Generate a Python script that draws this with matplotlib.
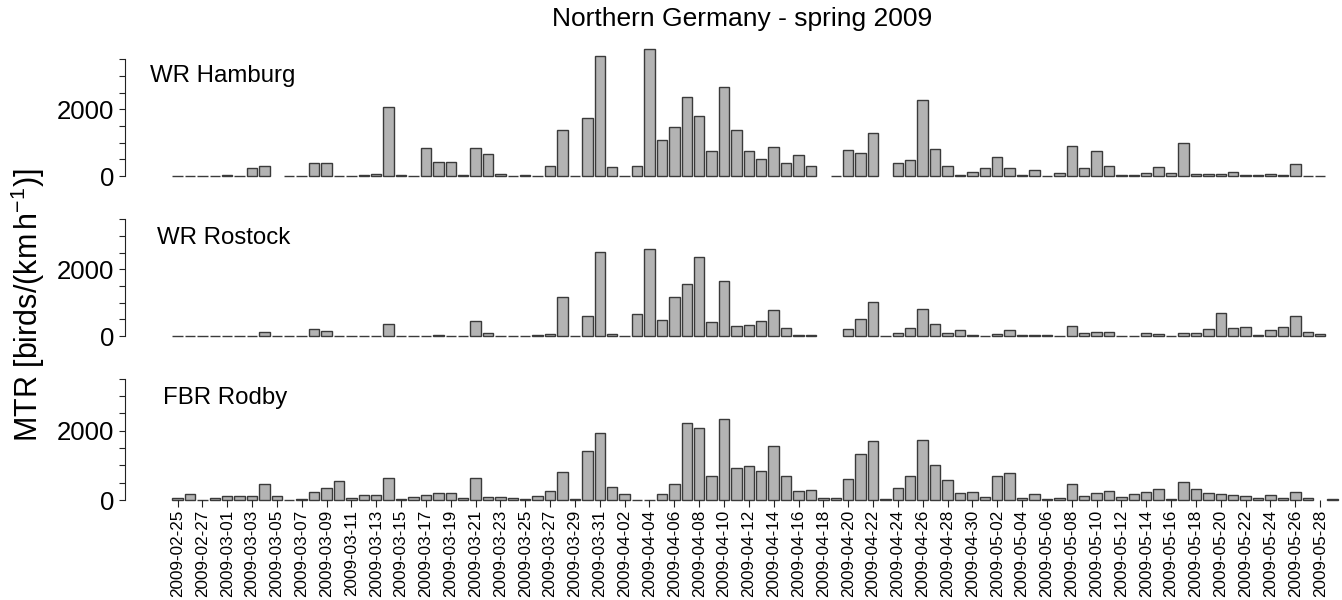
import numpy as np
import pandas as pd
import matplotlib
matplotlib.use("Agg")
import matplotlib.pyplot as plt

plt.rcParams['font.family'] = ['Liberation Sans', 'DejaVu Sans']
plt.rcParams['mathtext.fontset'] = 'custom'
plt.rcParams['mathtext.rm'] = 'Liberation Sans'
plt.rcParams['mathtext.it'] = 'Liberation Sans:italic'

nan = np.nan
# daily dates, 2009-02-25 .. 2009-05-29
dates = pd.date_range('2009-02-25', '2009-05-29', freq='D')
tick_labels = [d.strftime('%Y-%m-%d') for d in dates[:93:2]]

hamburg = [0, 0, 0, 0, 20, 0, 250, 300, nan, 0,
           0, 380, 380, 0, 0, 20, 70, 2060, 20, 0,
           830, 420, 420, 20, 830, 650, 60, 0, 25, 0,
           290, 1390, 0, 1740, 3610, 270, 0, 290, 3810, 1080,
           1460, 2380, 1790, 750, 2660, 1370, 750, 520, 870, 380,
           630, 290, nan, 0, 770, 680, 1300, nan, 380, 470,
           2280, 810, 290, 20, 130, 230, 580, 250, 40, 180,
           0, 80, 910, 230, 740, 310, 20, 20, 80, 260,
           80, 980, 60, 60, 60, 110, 20, 20, 60, 20,
           360, 0, 0, nan]

rostock = [0, 10, 0, 10, 0, 10, 0, 120, 0, 0,
           0, 210, 140, 0, 10, 10, 10, 370, 10, 0,
           10, 30, 10, 10, 460, 80, 10, 0, 10, 30,
           50, 1170, 0, 590, 2530, 50, 10, 670, 2600, 480,
           1170, 1550, 2370, 410, 1640, 300, 320, 440, 790, 230,
           30, 15, nan, nan, 210, 510, 1010, 0, 90, 250,
           800, 370, 90, 170, 15, 0, 60, 170, 25, 25,
           25, 10, 300, 80, 120, 120, 10, 10, 80, 50,
           0, 80, 100, 200, 680, 240, 260, 25, 170, 280,
           610, 120, 50, nan]

rodby = [50, 170, 0, 70, 115, 115, 115, 470, 105, 0,
         15, 220, 355, 560, 70, 135, 155, 645, 15, 85,
         155, 190, 210, 70, 625, 75, 85, 50, 40, 105,
         260, 815, 15, 1420, 1920, 385, 165, 0, 0, 165,
         470, 2220, 2065, 700, 2345, 920, 990, 835, 1565, 680,
         260, 280, 70, 70, 605, 1325, 1700, 15, 345, 680,
         1740, 1010, 575, 190, 240, 85, 680, 770, 70, 165,
         15, 70, 460, 105, 210, 260, 75, 165, 230, 325,
         20, 530, 305, 210, 180, 145, 105, 50, 135, 70,
         240, 50, nan, 15]

panels = [('WR Hamburg', hamburg, 176, 66.7, 150, 76),
          ('WR Rostock', rostock, 336, 66.7, 157, 238),
          ('FBR Rodby', rodby, 500, 69.3, 163, 398)]

W, H = 1342, 600
fig = plt.figure(figsize=(W / 100, H / 100), dpi=100)

x = np.arange(len(dates))
for k, (name, vals, y0, px2000, tx, ty) in enumerate(panels):
    vals = np.array(vals, dtype=float)
    top = 4000 * px2000 / 2000
    ax = fig.add_axes([125 / W, 1 - y0 / H, 1215 / W, top / H])
    ok = ~np.isnan(vals)
    ax.bar(x[ok], vals[ok], width=0.84, color='#b3b3b3', edgecolor='#3a3a3a',
           linewidth=1.0, clip_on=False)
    ax.set_xlim((125 - 177.5) / 12.42, (1340 - 177.5) / 12.42)
    ax.set_ylim(0, 4000)
    for s in ['top', 'right', 'bottom']:
        ax.spines[s].set_visible(False)
    ax.spines['left'].set_bounds(0, 3500)
    ax.spines['left'].set_color('#222222')
    ax.set_yticks(np.arange(0, 3501, 500))
    ax.set_yticklabels(['0', '', '', '', '2000', '', '', ''], fontsize=18.5)
    ax.tick_params(axis='y', length=4.5, width=0.8, pad=3, colors='#222222',
                   labelcolor='black')
    if k == 2:
        ax.set_xticks(x[:93:2])
        ax.set_xticklabels(tick_labels, rotation=90, fontsize=12.3)
        ax.tick_params(axis='x', length=5, width=0.8, pad=2, colors='#222222',
                       labelcolor='black')
    else:
        ax.set_xticks([])
    fig.text(tx / W, 1 - ty / H, name, fontsize=17.3, va='center', ha='left')

fig.text(742 / W, 1 - 19 / H, 'Northern Germany - spring 2009', fontsize=19,
         ha='center', va='center')
fig.text(28 / W, 1 - 305 / H, r'MTR [birds/(km$\,$h$^{-1}$)]', fontsize=22,
         rotation=90, ha='center', va='center')

fig.savefig('out.png', dpi=100)
